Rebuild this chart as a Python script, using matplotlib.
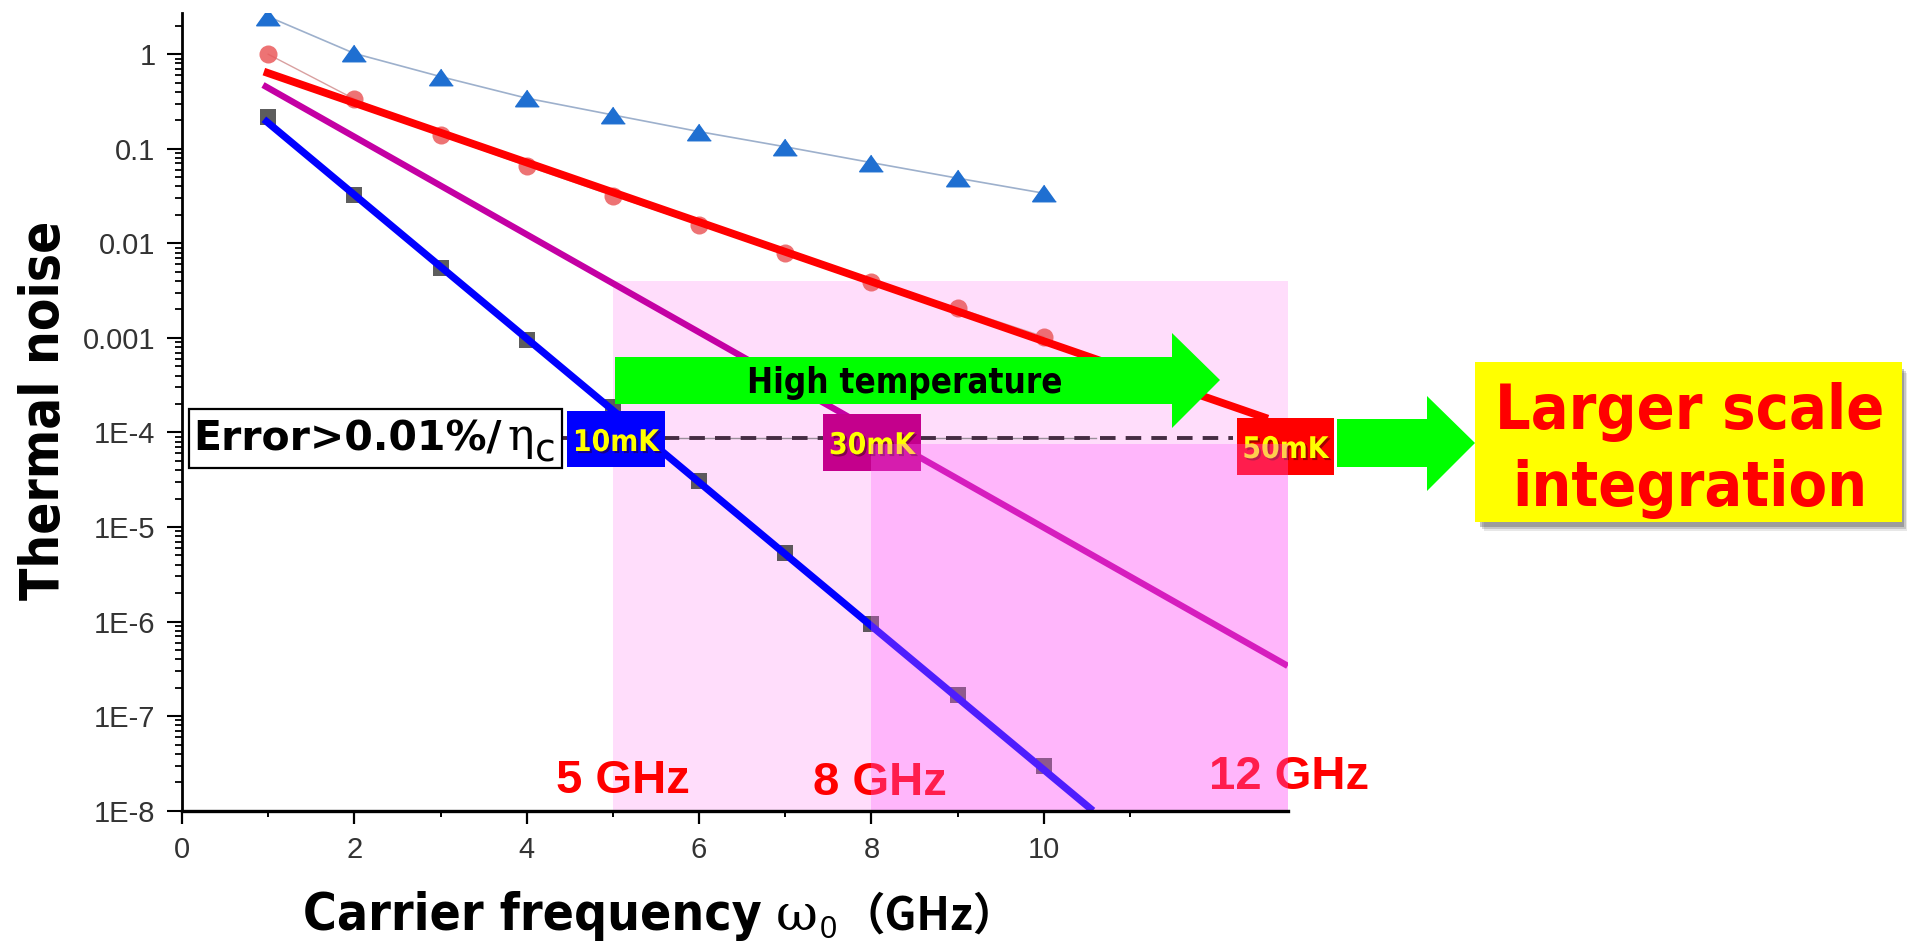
import os

import matplotlib
matplotlib.use("Agg")
import matplotlib.pyplot as plt
import numpy as np
from matplotlib import font_manager as fm
from matplotlib.patches import Rectangle, Polygon
from matplotlib.transforms import Affine2D
from matplotlib.ticker import FixedLocator, LogLocator, NullFormatter
import matplotlib.patheffects as pe

# ---------------- data ----------------
freq = [1, 2, 3, 4, 5, 6, 7, 8, 9, 10]
tri_vals = [2.5, 1.02, 0.58, 0.343, 0.228, 0.152, 0.105, 0.0714, 0.0489, 0.0339]
circ_vals = [1.0, 0.336, 0.14, 0.066, 0.032, 0.0158, 0.00785, 0.00394, 0.00206, 0.00103]
sq_vals = [0.215, 0.0325, 0.00545, 0.00095, 1.87e-4, 3.1e-5, 5.3e-6, 9.4e-7, 1.67e-7, 2.97e-8]

# straight fit lines (end points)
fit_blue_x = [0.95, 10.57]
fit_blue_y = [0.205, 1.0e-8]
fit_purple_x = [0.94, 12.83]
fit_purple_y = [0.473, 3.4e-7]
fit_red_x = [0.95, 12.6]
fit_red_y = [0.655, 1.4e-4]

threshold = 8.7e-5
band_start = [5, 8]
band_top = [4.0e-3, 7.6e-5]
band_labels = ["5 GHz", "8 GHz", "12 GHz"]
temp_labels = ["10mK", "30mK", "50mK"]

xticks = [0, 2, 4, 6, 8, 10]
xminor = [1, 3, 5, 7, 9, 11]
yticks = [1, 0.1, 0.01, 0.001, 1e-4, 1e-5, 1e-6, 1e-7, 1e-8]
ytick_labels = ["1", "0.1", "0.01", "0.001", "1E-4", "1E-5", "1E-6", "1E-7", "1E-8"]

XMAX = 12.83
YMIN, YMAX = 1e-8, 2.73


# ---------------- fonts ----------------
def font_file(basename):
    for f in fm.fontManager.ttflist:
        if os.path.basename(f.fname) == basename:
            return f.fname
    return None


COND_BOLD = font_file("DejaVuSansCondensed-Bold.ttf")
NARROW_REG = font_file("LiberationSansNarrow-Regular.ttf")


def cond_bold(size):
    if COND_BOLD:
        return fm.FontProperties(fname=COND_BOLD, size=size)
    return fm.FontProperties(family="DejaVu Sans", weight="bold", size=size * 0.9)


def narrow_reg(size):
    if NARROW_REG:
        return fm.FontProperties(fname=NARROW_REG, size=size)
    return fm.FontProperties(family="Liberation Sans", size=size * 0.85)


def sans_bold(size):
    return fm.FontProperties(family="DejaVu Sans", weight="bold", size=size)


def arial_bold(size):
    return fm.FontProperties(family="Liberation Sans", weight="bold", size=size)


# ---------------- figure ----------------
W, H = 1908, 944
fig = plt.figure(figsize=(W / 100, H / 100), dpi=100)
ax = fig.add_axes([182 / W, 1 - 810.7 / H, (1287.7 - 182) / W, (810.7 - 13) / H])

# pixel coordinates of the picture (origin top-left) for the annotations
px = Affine2D().scale(1 / 100, -1 / 100).translate(0, H / 100) + fig.dpi_scale_trans

ax.set_yscale("log")
ax.set_xlim(0, XMAX)
ax.set_ylim(YMIN, YMAX)

# pink frequency bands
ax.add_patch(Rectangle((band_start[0], YMIN), XMAX - band_start[0], band_top[0] - YMIN,
                       facecolor="#ffddfb", edgecolor="none", zorder=0.5))
ax.add_patch(Rectangle((band_start[1], YMIN), XMAX - band_start[1], band_top[1] - YMIN,
                       facecolor=(1, 95 / 255, 251 / 255), alpha=0.31, edgecolor="none", zorder=6))

# measured points
tri_marker = [(0, 0.7), (-1, -0.7), (1, -0.7)]
ax.plot(freq, tri_vals, color="#9db0cc", lw=1.2, zorder=1)
ax.plot(freq, tri_vals, ls="none", marker=tri_marker, ms=17, color="#1f6fd1", zorder=2)
ax.plot(freq, circ_vals, color="#d9a0a0", lw=1.0, zorder=1)
ax.plot(freq, circ_vals, ls="none", marker="o", ms=13, color="#ea5a5c", alpha=0.85,
        markeredgewidth=0, zorder=2)
ax.plot(freq, sq_vals, ls="none", marker="s", ms=11, color="#404040", alpha=0.85,
        markeredgewidth=0, zorder=2)

# fit lines
ax.plot(fit_blue_x, fit_blue_y, color="#0000ff", lw=5.2, solid_capstyle="butt", zorder=3)
ax.plot(fit_purple_x, fit_purple_y, color="#c400a4", lw=4.6, solid_capstyle="butt", zorder=3)
ax.plot(fit_red_x, fit_red_y, color="#ff0000", lw=5.6, solid_capstyle="butt", zorder=3)

# error threshold
ax.plot([4.36, 10.6], [threshold, threshold], color="#9a8f9a", lw=1.0, zorder=3.4)
ax.plot([4.4, 12.2], [threshold, threshold], color="#452c43", lw=2.8,
        dashes=[4.0, 2.6], zorder=3.5)

# axes styling
for side in ["top", "right"]:
    ax.spines[side].set_visible(False)
ax.spines["bottom"].set_linewidth(2.4)
ax.spines["left"].set_linewidth(2.0)
ax.spines["bottom"].set_zorder(10)
ax.spines["left"].set_zorder(10)

tick_font = fm.FontProperties(family="Liberation Sans", size=21)
ax.set_xticks(xticks)
ax.set_xticklabels([str(t) for t in xticks], fontproperties=tick_font, color="#333333")
ax.xaxis.set_minor_locator(FixedLocator(xminor))
ax.set_yticks(yticks)
ax.set_yticklabels(ytick_labels, fontproperties=tick_font, color="#333333")
ax.yaxis.set_minor_locator(LogLocator(base=10, subs=np.arange(2, 10), numticks=100))
ax.yaxis.set_minor_formatter(NullFormatter())
ax.tick_params(axis="x", which="major", length=9, width=1.6, pad=9)
ax.tick_params(axis="x", which="minor", length=4.5, width=1.4)
ax.tick_params(axis="y", which="major", length=11, width=1.5, pad=8)
ax.tick_params(axis="y", which="minor", length=5, width=1.3)


def box(x0, y0, x1, y1, color, z, **kw):
    r = Rectangle((x0, y0), x1 - x0, y1 - y0, transform=px, facecolor=color,
                  clip_on=False, zorder=z, **kw)
    ax.add_patch(r)
    return r


def label(x, y, s, fp, color="black", ha="left", z=5, **kw):
    return ax.text(x, y, s, fontproperties=fp, color=color, ha=ha, va="baseline",
                   transform=px, clip_on=False, zorder=z, **kw)


renderer = fig.canvas.get_renderer()


def right_edge(t):
    return t.get_window_extent(renderer).x1


# Error box
box(189, 409, 562, 468, "white", 4.5, edgecolor="black", linewidth=1.6)
t = label(193, 450, "Error>0.01%/", sans_bold(29.5), z=5)
t = label(right_edge(t) + 6, 450, "η", fm.FontProperties(family="DejaVu Serif", size=32), z=5)
label(right_edge(t) + 1, 462, "c", fm.FontProperties(family="DejaVu Sans", size=27), z=5)

# temperature boxes
temp_boxes = [(567, 411, 665, 467, "#0000ff", 451),
              (823, 414, 921, 471, "#c4008c", 454),
              (1237, 418, 1334, 475, "#ff0000", 458)]
for (x0, y0, x1, y1, c, base), t in zip(temp_boxes, temp_labels):
    box(x0, y0, x1, y1, c, 4.6, edgecolor="none")
    label((x0 + x1) / 2, base, t, cond_bold(21.5), color="#ffff00", ha="center", z=4.7,
          path_effects=[pe.withSimplePatchShadow(offset=(1.5, -1.5), shadow_rgbFace="#300000",
                                                alpha=0.45)])

# band labels
label(556, 793, band_labels[0], arial_bold(34), color="#ff0000", z=5)
label(813, 795, band_labels[1], arial_bold(34), color="#ff0000", z=5)
label(1209, 789, band_labels[2], arial_bold(34), color="#ff0000", z=5)

# "High temperature" arrow
arrow1 = [(615, 357), (1172, 357), (1172, 333), (1220, 380), (1172, 428), (1172, 404), (615, 404)]
ax.add_patch(Polygon(arrow1, closed=True, transform=px, facecolor="#00ff00", edgecolor="none",
                     clip_on=False, zorder=7))
label(905, 393, "High temperature", cond_bold(25), ha="center", z=8)

# arrow to the conclusion box
arrow2 = [(1337, 419), (1427, 419), (1427, 396), (1475, 443), (1427, 491), (1427, 467), (1337, 467)]
ax.add_patch(Polygon(arrow2, closed=True, transform=px, facecolor="#00ff00", edgecolor="none",
                     clip_on=False, zorder=7))

# yellow conclusion box with soft shadow
for k, a in [(9, 0.12), (7, 0.2), (5, 0.3)]:
    box(1475 + k, 362 + k + 2, 1902 + k - 3, 522 + k, "#404040", 7, edgecolor="none", alpha=a)
box(1475, 362, 1902, 522, "#ffff00", 7.5, edgecolor="none")
label(1690, 429, "Larger scale", cond_bold(45), color="#ff0000", ha="center", z=8)
label(1690, 506, "integration", cond_bold(45), color="#ff0000", ha="center", z=8)

# axis titles
ax.text(44, 410, "Thermal noise", fontproperties=cond_bold(38), rotation=90, ha="center",
        va="center", transform=px, clip_on=False)
t = label(303, 930, "Carrier frequency", cond_bold(37), z=5)
t = label(right_edge(t) + 14, 930, "ω", fm.FontProperties(family="DejaVu Serif", size=37), z=5)
t = label(right_edge(t) + 2, 938, "0", narrow_reg(26), z=5)
label(right_edge(t) + 4, 930, "（GHz）",
      fm.FontProperties(family="Noto Sans CJK JP", weight="bold", size=32), z=5)

fig.savefig("out.png", dpi=100)
